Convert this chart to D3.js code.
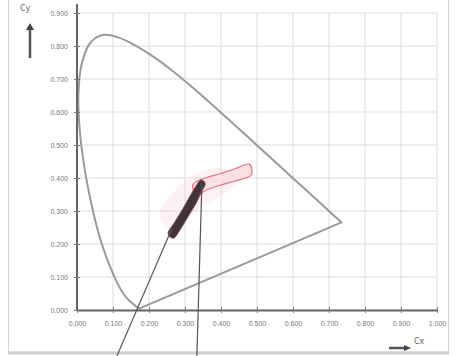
<!DOCTYPE html>
<html>
<head>
<meta charset="utf-8">
<script src="https://cdn.jsdelivr.net/npm/d3@7"></script>
<style>
  body { margin: 0; background: #fff; }
  svg { display: block; font-family: 'DejaVu Sans', sans-serif; }
</style>
</head>
<body>
<svg id="chart" width="457" height="356"></svg>
<script>
// CIE 1931 spectral locus (x, y)
const locusX = [0.1741, 0.1740, 0.1738, 0.1736, 0.1733, 0.1730, 0.1726, 0.1721, 0.1714, 0.1703,
  0.1689, 0.1669, 0.1644, 0.1611, 0.1566, 0.1510, 0.1440, 0.1355, 0.1241, 0.1096,
  0.0913, 0.0687, 0.0454, 0.0235, 0.0082, 0.0039, 0.0139, 0.0389, 0.0743, 0.1142,
  0.1547, 0.1929, 0.2296, 0.2658, 0.3016, 0.3373, 0.3731, 0.4087, 0.4441, 0.4788,
  0.5125, 0.5448, 0.5752, 0.6029, 0.6270, 0.6482, 0.6658, 0.6801, 0.6915, 0.7006,
  0.7079, 0.7140, 0.7190, 0.7230, 0.7260, 0.7300, 0.7320, 0.7334, 0.7347]
const locusY = [0.0050, 0.0050, 0.0049, 0.0049, 0.0048, 0.0048, 0.0048, 0.0048, 0.0051, 0.0058,
  0.0069, 0.0086, 0.0109, 0.0138, 0.0177, 0.0227, 0.0297, 0.0399, 0.0578, 0.0868,
  0.1327, 0.2007, 0.2950, 0.4127, 0.5384, 0.6548, 0.7502, 0.8120, 0.8338, 0.8262,
  0.8059, 0.7816, 0.7543, 0.7243, 0.6923, 0.6589, 0.6245, 0.5896, 0.5547, 0.5202,
  0.4866, 0.4544, 0.4242, 0.3965, 0.3725, 0.3514, 0.3340, 0.3197, 0.3083, 0.2993,
  0.2920, 0.2859, 0.2809, 0.2770, 0.2740, 0.2700, 0.2680, 0.2666, 0.2653]

// measured cluster (dark band) outline
const clusterX = [0.253, 0.272, 0.294, 0.314, 0.331, 0.344, 0.356, 0.344, 0.331, 0.311, 0.289, 0.269]
const clusterY = [0.233, 0.267, 0.306, 0.345, 0.376, 0.394, 0.382, 0.355, 0.324, 0.288, 0.248, 0.218]

// tolerance region (red outline)
const regionX = [0.322, 0.356, 0.397, 0.439, 0.478, 0.483, 0.439, 0.397, 0.356, 0.333]
const regionY = [0.380, 0.400, 0.413, 0.428, 0.442, 0.408, 0.391, 0.378, 0.362, 0.345]

// faint halo around points
const haloX = [0.230, 0.270, 0.310, 0.350, 0.400, 0.450, 0.420, 0.370, 0.330, 0.290, 0.250]
const haloY = [0.300, 0.360, 0.400, 0.420, 0.430, 0.400, 0.360, 0.330, 0.300, 0.260, 0.250]

// leader lines (start, end)
const leaderX = [[0.111, 0.264], [0.333, 0.347]]
const leaderY = [[-0.139, 0.248], [-0.139, 0.388]]

const xTicks = [0, 0.1, 0.2, 0.3, 0.4, 0.5, 0.6, 0.7, 0.8, 0.9, 1.0]
const yTicks = [0, 0.1, 0.2, 0.3, 0.4, 0.5, 0.6, 0.7, 0.8, 0.9]

const svg = d3.select('#chart')
const x = d3.scaleLinear().domain([0, 1]).range([77, 437])
const y = d3.scaleLinear().domain([0, 0.9]).range([310, 13])
const fmt = d3.format('.3f')

// outer frame
svg.append('rect')
  .attr('x', 8.5).attr('y', -2).attr('width', 440).attr('height', 354)
  .attr('fill', 'none').attr('stroke', '#d4d4d4').attr('stroke-width', 1)
svg.append('line')
  .attr('x1', 8).attr('x2', 449).attr('y1', 353).attr('y2', 353)
  .attr('stroke', '#cfcfcf').attr('stroke-width', 3)

// grid
svg.append('g')
  .selectAll('line')
  .data(xTicks)
  .join('line')
  .attr('x1', (d) => x(d)).attr('x2', (d) => x(d))
  .attr('y1', y(0)).attr('y2', y(0.9))
  .attr('stroke', '#dcdcdc')
svg.append('g')
  .selectAll('line')
  .data(yTicks)
  .join('line')
  .attr('x1', x(0)).attr('x2', x(1))
  .attr('y1', (d) => y(d)).attr('y2', (d) => y(d))
  .attr('stroke', '#dcdcdc')

// halo
const poly = (xs, ys) =>
  d3.line().curve(d3.curveCardinalClosed)(xs.map((v, i) => [x(v), y(ys[i])]))

svg.append('path')
  .attr('d', poly(haloX, haloY))
  .attr('fill', '#f7c9d0').attr('opacity', 0.25)

// spectral locus
const locus = locusX.map((v, i) => [x(v), y(locusY[i])])
svg.append('path')
  .attr('d', d3.line().curve(d3.curveCatmullRom)(locus) + 'Z')
  .attr('fill', 'none')
  .attr('stroke', '#9a9a9a')
  .attr('stroke-width', 2)
  .attr('stroke-linejoin', 'round')

// region
svg.append('path')
  .attr('d', poly(regionX, regionY))
  .attr('fill', '#fbe0e3')
  .attr('stroke', '#e57784')
  .attr('stroke-width', 1.2)

// cluster
svg.append('path')
  .attr('d', poly(clusterX, clusterY))
  .attr('fill', '#3f3438')
  .attr('stroke', '#7a4650')
  .attr('stroke-width', 1)

// axes
svg.append('g')
  .attr('transform', `translate(0,${y(0)})`)
  .call(d3.axisBottom(x).tickValues(xTicks).tickFormat(fmt).tickSize(3).tickPadding(8).tickSizeOuter(0))
  .call((g) => g.select('.domain').attr('stroke', '#666').attr('stroke-width', 2))
  .call((g) => g.selectAll('.tick line').attr('stroke', '#777').attr('y1', -3))
  .call((g) => g.selectAll('text').attr('fill', '#777').attr('font-size', 7))

svg.append('g')
  .attr('transform', `translate(${x(0)},0)`)
  .call(d3.axisLeft(y).tickValues(yTicks).tickFormat(fmt).tickSize(3).tickPadding(6).tickSizeOuter(0))
  .call((g) => g.select('.domain').attr('stroke', '#666').attr('stroke-width', 2).attr('d', `M0,${y(0)}V4`))
  .call((g) => g.selectAll('.tick line').attr('stroke', '#777').attr('x1', 3))
  .call((g) => g.selectAll('text').attr('fill', '#777').attr('font-size', 7))

// leader lines
svg.append('g')
  .selectAll('line')
  .data(leaderX)
  .join('line')
  .attr('x1', (d) => x(d[0])).attr('x2', (d) => x(d[1]))
  .attr('y1', (d, i) => y(leaderY[i][0])).attr('y2', (d, i) => y(leaderY[i][1]))
  .attr('stroke', '#555').attr('stroke-width', 1.2)

// axis names with arrows
svg.append('text').attr('x', 20).attr('y', 11).attr('font-size', 8).attr('fill', '#666').text('Cy')
svg.append('line').attr('x1', 30).attr('x2', 30).attr('y1', 58).attr('y2', 28)
  .attr('stroke', '#555').attr('stroke-width', 2.5)
svg.append('path').attr('d', 'M26,30L30,23L34,30Z').attr('fill', '#444')

svg.append('text').attr('x', 414).attr('y', 344).attr('font-size', 8).attr('fill', '#666').text('Cx')
svg.append('line').attr('x1', 389).attr('x2', 406).attr('y1', 348).attr('y2', 348)
  .attr('stroke', '#555').attr('stroke-width', 2.5)
svg.append('path').attr('d', 'M404,345L411,348L404,351Z').attr('fill', '#444')
</script>
</body>
</html>
